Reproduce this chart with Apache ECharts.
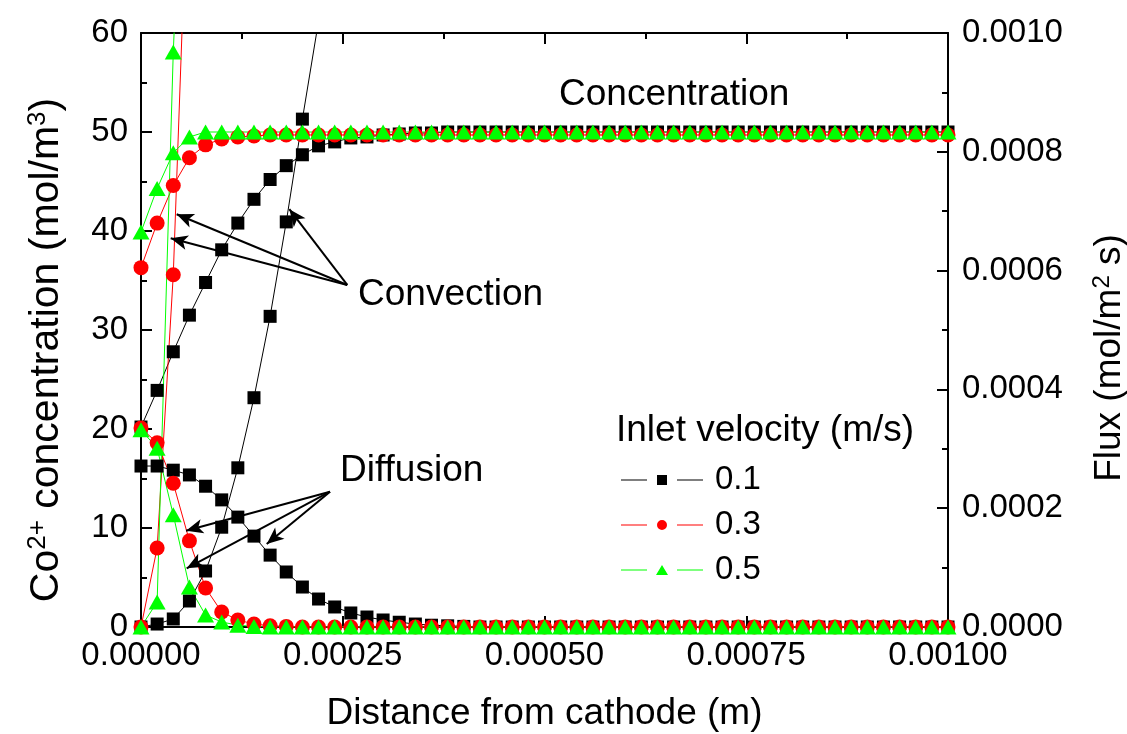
<!DOCTYPE html>
<html>
<head>
<meta charset="utf-8">
<script src="https://cdn.jsdelivr.net/npm/echarts@6/dist/echarts.min.js"></script>
<style>
  html, body { margin: 0; padding: 0; background: #fff; }
  #chart { width: 1127px; height: 734px; }
</style>
</head>
<body>
<div id="chart"></div>
<script>
const FONT = "'Liberation Sans', Arial, sans-serif";

// distance from cathode (m)
const distance = [
  0, 0.00002, 0.00004, 0.00006, 0.00008, 0.0001, 0.00012, 0.00014, 0.00016, 0.00018,
  0.0002, 0.00022, 0.00024, 0.00026, 0.00028, 0.0003, 0.00032, 0.00034, 0.00036, 0.00038,
  0.0004, 0.00042, 0.00044, 0.00046, 0.00048, 0.0005, 0.00052, 0.00054, 0.00056, 0.00058,
  0.0006, 0.00062, 0.00064, 0.00066, 0.00068, 0.0007, 0.00072, 0.00074, 0.00076, 0.00078,
  0.0008, 0.00082, 0.00084, 0.00086, 0.00088, 0.0009, 0.00092, 0.00094, 0.00096, 0.00098,
  0.001
];

const velocities = ["0.1", "0.3", "0.5"];

// concentration (mol/m3), left axis
const conc01 = [
  20.2, 23.9, 27.8, 31.5, 34.8, 38.1, 40.8, 43.2, 45.2, 46.6,
  47.7, 48.6, 49.0, 49.4, 49.5, 49.7, 49.8, 49.9, 49.9, 50.0,
  50, 50, 50, 50, 50, 50, 50, 50, 50, 50,
  50, 50, 50, 50, 50, 50, 50, 50, 50, 50,
  50, 50, 50, 50, 50, 50, 50, 50, 50, 50,
  50
];
const conc03 = [
  36.3, 40.8, 44.6, 47.4, 48.7, 49.3, 49.5, 49.6, 49.7, 49.7,
  49.7, 49.7, 49.7, 49.7, 49.7, 49.7, 49.7, 49.7, 49.7, 49.7,
  49.7, 49.7, 49.7, 49.7, 49.7, 49.7, 49.7, 49.7, 49.7, 49.7,
  49.7, 49.7, 49.7, 49.7, 49.7, 49.7, 49.7, 49.7, 49.7, 49.7,
  49.7, 49.7, 49.7, 49.7, 49.7, 49.7, 49.7, 49.7, 49.7, 49.7,
  49.7
];
const conc05 = [
  39.9, 44.3, 47.9, 49.5, 50, 50, 50, 50, 50, 50,
  50, 50, 50, 50, 50, 50, 50, 50, 50, 50,
  50, 50, 50, 50, 50, 50, 50, 50, 50, 50,
  50, 50, 50, 50, 50, 50, 50, 50, 50, 50,
  50, 50, 50, 50, 50, 50, 50, 50, 50, 50,
  50
];

// convection flux (mol/m2 s), right axis -- climbs off the top quickly
const conv01 = [0, 0.000005, 0.0000135, 0.0000438, 0.0000943, 0.000168, 0.000268, 0.000386, 0.000523, 0.000682, 0.000855, 0.00102, 0.00121];
const conv03 = [0, 0.000133, 0.000593, 0.00135];
const conv05 = [0, 0.000042, 0.000968, 0.0016];

// diffusion flux (mol/m2 s), right axis
const diff01 = [
  0.000271, 0.000271, 0.000264, 0.000256, 0.000237, 0.000214, 0.000185, 0.000153, 0.000121, 0.0000926,
  0.0000673, 0.0000471, 0.0000337, 0.0000236, 0.0000168, 0.0000118, 0.000008, 0.000005, 0.000003, 0.000002,
  0.000001, 0, 0, 0, 0, 0, 0, 0, 0, 0,
  0, 0, 0, 0, 0, 0, 0, 0, 0, 0,
  0, 0, 0, 0, 0, 0, 0, 0, 0, 0,
  0
];
const diff03 = [
  0.000335, 0.00031, 0.000242, 0.000145, 0.0000657, 0.0000253, 0.0000118, 0.000005, 0.000002, 0.000001,
  0, 0, 0, 0, 0, 0, 0, 0, 0, 0,
  0, 0, 0, 0, 0, 0, 0, 0, 0, 0,
  0, 0, 0, 0, 0, 0, 0, 0, 0, 0,
  0, 0, 0, 0, 0, 0, 0, 0, 0, 0,
  0
];
const diff05 = [
  0.000332, 0.000301, 0.000189, 0.0000673, 0.00002, 0.0000084, 0.000003, 0.000001, 0, 0,
  0, 0, 0, 0, 0, 0, 0, 0, 0, 0,
  0, 0, 0, 0, 0, 0, 0, 0, 0, 0,
  0, 0, 0, 0, 0, 0, 0, 0, 0, 0,
  0, 0, 0, 0, 0, 0, 0, 0, 0, 0,
  0
];

// annotation arrows, in (distance, concentration) units: [from, to]
const convectionArrows = [
  [[0.0002556, 34.55], [0.0000442, 41.69]],
  [[0.0002556, 34.55], [0.0000368, 39.26]],
  [[0.0002556, 34.55], [0.0001838, 42.2]]
];
const diffusionArrows = [
  [[0.0002342, 13.67], [0.0000558, 9.73]],
  [[0.0002342, 13.67], [0.0000566, 5.93]],
  [[0.0002342, 13.67], [0.0001558, 8.38]]
];

const styles = {
  "0.1": { color: "#000000", symbol: "rect", size: 13 },
  "0.3": { color: "#ff0000", symbol: "circle", size: 15 },
  "0.5": { color: "#00ff00", symbol: "triangle", size: [17, 15] }
};

// Origin-style legend glyphs: line, gap, marker, gap, line (82 x 10 box)
const legendIcons = {
  "0.1": "path://M0,4.5H26V5.5H0Z M56,4.5H82V5.5H56Z M36,0H46V10H36Z",
  "0.3": "path://M0,4.5H26V5.5H0Z M56,4.5H82V5.5H56Z M46,5A5,5 0 1,1 36,5A5,5 0 1,1 46,5Z",
  "0.5": "path://M0,4.5H26V5.5H0Z M56,4.5H82V5.5H56Z M41,0L47,10H35Z"
};

function pairs(arr) {
  return arr.map((v, i) => [distance[i], v]);
}

function makeSeries(name, values, yIndex, extra) {
  const st = styles[name];
  return Object.assign({
    name: name,
    type: "line",
    xAxisIndex: 0,
    yAxisIndex: yIndex,
    data: pairs(values),
    symbol: st.symbol,
    symbolSize: st.size,
    showAllSymbol: true,
    clip: true,
    itemStyle: { color: st.color },
    lineStyle: { color: st.color, width: 1 },
    emphasis: { disabled: true }
  }, extra || {});
}

function arrowLines(list) {
  return list.map(a => [{ coord: a[0] }, { coord: a[1] }]);
}

const axisLineStyle = { show: true, onZero: false, lineStyle: { color: "#000", width: 2 } };
const tickStyle = { show: true, inside: true, length: 11, lineStyle: { color: "#000", width: 2 } };
const minorStyle = { show: true, splitNumber: 2, length: 6, lineStyle: { color: "#000", width: 2 } };
const labelBase = { color: "#000", fontSize: 33, fontFamily: FONT, showMinLabel: true, showMaxLabel: true };
const nameRich = {
  n: { fontSize: 37, fontFamily: FONT, color: "#000", lineHeight: 40 },
  s: { fontSize: 24, fontFamily: FONT, color: "#000", lineHeight: 24, verticalAlign: "top" }
};
const nameRichBig = {
  n: { fontSize: 41, fontFamily: FONT, color: "#000", lineHeight: 44 },
  s: { fontSize: 26, fontFamily: FONT, color: "#000", lineHeight: 26, verticalAlign: "top" }
};

const chart = echarts.init(document.getElementById("chart"), null, { renderer: "canvas" });

chart.setOption({
  animation: false,
  backgroundColor: "#ffffff",
  grid: { left: 141, right: 179, top: 33, bottom: 107, containLabel: false, outerBoundsMode: "none" },
  xAxis: [
    {
      type: "value", position: "bottom", min: 0, max: 0.001, interval: 0.00025,
      name: "Distance from cathode (m)", nameLocation: "middle", nameGap: 68,
      nameTextStyle: { fontSize: 37, fontFamily: FONT, color: "#000" },
      axisLine: axisLineStyle, axisTick: tickStyle, minorTick: minorStyle,
      splitLine: { show: false },
      axisLabel: Object.assign({ margin: 12, formatter: v => v.toFixed(5) }, labelBase)
    },
    {
      type: "value", position: "top", min: 0, max: 0.001, interval: 0.00025,
      axisLine: axisLineStyle, axisTick: tickStyle, minorTick: minorStyle,
      splitLine: { show: false }, axisLabel: { show: false }
    }
  ],
  yAxis: [
    {
      type: "value", position: "left", min: 0, max: 60, interval: 10,
      name: "{n|Co}{s|2+}{n| concentration (mol/m}{s|3}{n|)}",
      nameLocation: "middle", nameGap: 72, nameRotate: 90,
      nameTextStyle: { fontSize: 41, fontFamily: FONT, color: "#000", padding: [0, 40, 0, 0], rich: nameRichBig },
      axisLine: axisLineStyle, axisTick: tickStyle, minorTick: minorStyle,
      splitLine: { show: false },
      axisLabel: Object.assign({ margin: 13 }, labelBase)
    },
    {
      type: "value", position: "right", min: 0, max: 0.001, interval: 0.0002,
      name: "{n|Flux (mol/m}{s|2}{n| s)}",
      nameLocation: "middle", nameGap: 142, nameRotate: 90,
      nameTextStyle: { fontSize: 37, fontFamily: FONT, color: "#000", padding: [0, 56, 0, 0], rich: nameRich },
      axisLine: axisLineStyle, axisTick: tickStyle, minorTick: minorStyle,
      splitLine: { show: false },
      axisLabel: Object.assign({ margin: 14, formatter: v => v.toFixed(4) }, labelBase)
    }
  ],
  legend: {
    data: velocities.map(v => ({ name: v, icon: legendIcons[v] })),
    orient: "vertical",
    left: 616,
    top: 458,
    itemWidth: 82,
    itemHeight: 10,
    itemGap: 11,
    selectedMode: false,
    textStyle: { fontSize: 33, fontFamily: FONT, color: "#000", lineHeight: 34, padding: [0, 0, 0, 7] }
  },
  graphic: [
    { type: "text", x: 559, y: 95, silent: true, style: { text: "Concentration", font: "37px " + FONT, fill: "#000", verticalAlign: "middle" } },
    { type: "text", x: 358, y: 295, silent: true, style: { text: "Convection", font: "37px " + FONT, fill: "#000", verticalAlign: "middle" } },
    { type: "text", x: 340, y: 471, silent: true, style: { text: "Diffusion", font: "37px " + FONT, fill: "#000", verticalAlign: "middle" } },
    { type: "text", x: 616, y: 431, silent: true, style: { text: "Inlet velocity (m/s)", font: "37px " + FONT, fill: "#000", verticalAlign: "middle" } }
  ],
  series: [
    makeSeries("0.1", conc01, 0, {
      markLine: {
        silent: true, animation: false,
        symbol: ["none", "arrow"], symbolSize: [11, 17],
        label: { show: false },
        lineStyle: { color: "#000", width: 2, type: "solid" },
        emphasis: { disabled: true },
        data: arrowLines(convectionArrows).concat(arrowLines(diffusionArrows))
      }
    }),
    makeSeries("0.1", conv01, 1),
    makeSeries("0.1", diff01, 1),
    makeSeries("0.3", conc03, 0),
    makeSeries("0.3", conv03, 1),
    makeSeries("0.3", diff03, 1),
    makeSeries("0.5", conc05, 0),
    makeSeries("0.5", conv05, 1),
    makeSeries("0.5", diff05, 1)
  ]
});
</script>
</body>
</html>
